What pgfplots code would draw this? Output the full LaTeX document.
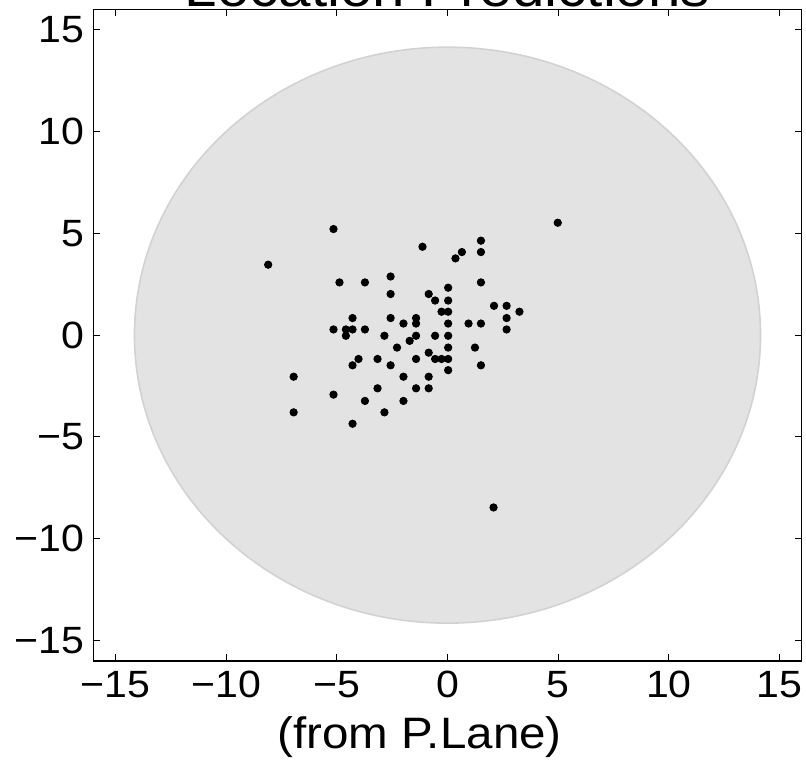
\documentclass[border=0pt]{standalone}
\usepackage{fontspec}
\setmainfont{Liberation Sans}[FakeStretch=1.08]
\usepackage{pgfplots}
\pgfplotsset{compat=1.18}
\definecolor{circfill}{RGB}{227,227,227}
\definecolor{circedge}{RGB}{210,210,210}
\begin{document}
\begin{tikzpicture}
\begin{axis}[
  scale only axis,
  width=354.2pt, height=325.85pt,
  xmin=-16, xmax=16, ymin=-16, ymax=16,
  xtick={-15,-10,-5,0,5,10,15},
  ytick={-15,-10,-5,0,5,10,15},
  xticklabels={−15,−10,−5,0,5,10,15},
  yticklabels={−15,−10,−5,0,5,10,15},
  tick align=inside,
  major tick length=3.5pt,
  tick style={black, line width=0.5pt},
  axis line style={black, line width=0.7pt},
  xticklabel style={font=\fontsize{19}{21}\selectfont, anchor=base, inner sep=0pt, yshift=-18pt},
  yticklabel style={font=\fontsize{19}{21}\selectfont, anchor=east, inner sep=0pt, xshift=-4.15pt},
  xlabel={(from P.Lane)},
  xlabel style={font=\fontsize{22}{24}\selectfont, at={(rel axis cs:0.5,0)}, anchor=base, inner sep=0pt, yshift=-43.5pt, xshift=-14pt},
  every axis title shift=0pt,
  title={Location Predictions},
  title style={font=\fontsize{27}{30}\selectfont, at={(rel axis cs:0.5,1)}, anchor=base, inner sep=0pt, yshift=1.6pt},
]
\fill[circfill, draw=circedge, line width=0.8pt] (axis cs:0,0) ellipse [x radius=14.14, y radius=14.14];
\addplot[only marks, mark=*, mark size=1.85pt, black] coordinates {
(-5.15,5.21) (-1.13,4.34) (1.51,4.64) (1.51,4.08) (0.65,4.08) (0.36,3.77)
(-8.10,3.46) (-4.88,2.59) (-3.73,2.59) (-2.57,2.88) (1.51,2.59) (-2.57,2.02)
(-0.85,2.02) (0.03,2.33) (-0.56,1.70) (0.03,1.70) (-0.27,1.15) (0.03,1.15)
(2.10,1.44) (2.67,1.44) (3.25,1.15) (2.67,0.84) (2.67,0.28) (1.51,0.57)
(0.95,0.57) (0.03,0.57) (-1.42,0.84) (-1.42,0.57) (-1.99,0.57) (-2.57,0.84)
(-4.29,0.84) (-5.15,0.28) (-4.59,0.28) (-4.29,0.28) (-3.73,0.28) (-4.59,-0.03)
(-2.85,-0.03) (-1.42,-0.03) (-0.56,-0.03) (0.03,-0.03) (-1.71,-0.28) (-2.28,-0.61)
(0.03,-0.61) (1.24,-0.61) (-0.85,-0.86) (-4.02,-1.17) (-4.29,-1.48) (-3.16,-1.17)
(-2.57,-1.48) (-1.42,-1.17) (-0.56,-1.17) (-0.27,-1.17) (0.03,-1.17) (1.51,-1.48)
(0.03,-1.72) (-6.95,-2.04) (-1.99,-2.04) (-0.85,-2.04) (-3.16,-2.61) (-1.42,-2.61)
(-0.85,-2.61) (-5.15,-2.92) (-3.73,-3.23) (-1.99,-3.23) (-6.95,-3.79) (-2.85,-3.79)
(-4.29,-4.35) (2.08,-8.46) (4.98,5.52)
};
\end{axis}
\pgfresetboundingbox
\useasboundingbox (-46.65pt,-50.5pt) rectangle (356.35pt,330.5pt);
\end{tikzpicture}
\end{document}
